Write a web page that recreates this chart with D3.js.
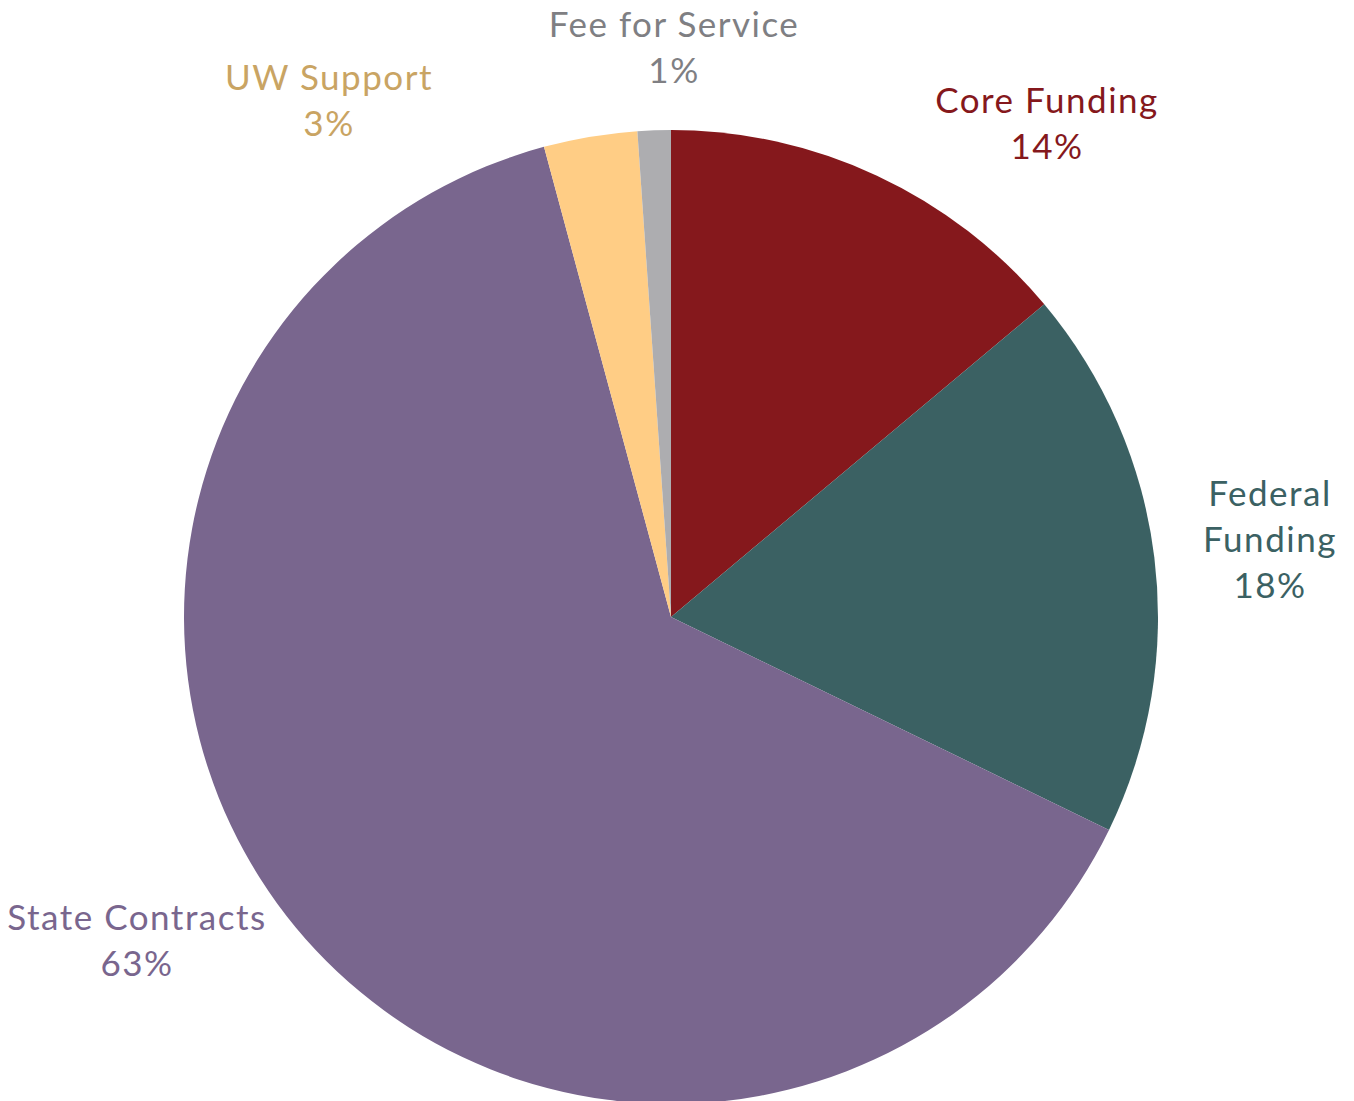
<!DOCTYPE html>
<html>
<head>
<meta charset="utf-8">
<script src="https://cdn.jsdelivr.net/npm/d3@7"></script>
<style>
  html, body { margin: 0; padding: 0; background: #fff; }
  svg { display: block; }
</style>
</head>
<body>
<svg id="chart" width="1354" height="1101"></svg>
<script>
const categories = ['Core Funding', 'Federal Funding', 'State Contracts', 'UW Support', 'Fee for Service'];
const values = [13.9, 18.3, 63.6, 3.1, 1.1];
const pctLabels = ['14%', '18%', '63%', '3%', '1%'];

const sliceColors = ['#85181c', '#3b6163', '#79668e', '#ffcd85', '#adadb0'];
const textColors = ['#85181c', '#3b6163', '#79668e', '#c9a463', '#7f7f83'];

const width = 1354, height = 1101;
const cx = 671, cy = 617, radius = 487;
const fontSize = 35, lineHeight = 46;

// label anchor (center of first baseline) relative to the pie centre
const labelPos = [
    { dx: 376, dy: -504, lines: ['Core Funding'] },
    { dx: 599, dy: -111, lines: ['Federal', 'Funding'] },
    { dx: -534, dy: 313, lines: ['State Contracts'] },
    { dx: -342, dy: -527, lines: ['UW Support'] },
    { dx: 3, dy: -580, lines: ['Fee for Service'] }
];

const svg = d3.select('#chart');

const data = categories.map((name, i) => ({ name, value: values[i], i }));

const pie = d3.pie()
    .value(d => d.value)
    .sort(null);

const arc = d3.arc()
    .innerRadius(0)
    .outerRadius(radius);

const g = svg.append('g')
    .attr('transform', `translate(${cx},${cy})`);

g.selectAll('path')
    .data(pie(data))
    .join('path')
    .attr('d', arc)
    .attr('fill', d => sliceColors[d.data.i]);

// Labels
const labels = g.append('g')
    .attr('font-family', 'Lato, "Noto Sans", sans-serif')
    .attr('font-size', fontSize)
    .attr('letter-spacing', 1.5)
    .attr('text-anchor', 'middle');

data.forEach((d, i) => {
    const pos = labelPos[i];
    const t = labels.append('text')
        .attr('fill', textColors[i])
        .attr('x', pos.dx)
        .attr('y', pos.dy);
    pos.lines.concat([pctLabels[i]]).forEach((line, k) => {
        t.append('tspan')
            .attr('x', pos.dx)
            .attr('dy', k === 0 ? 0 : lineHeight)
            .text(line);
    });
});
</script>
</body>
</html>
